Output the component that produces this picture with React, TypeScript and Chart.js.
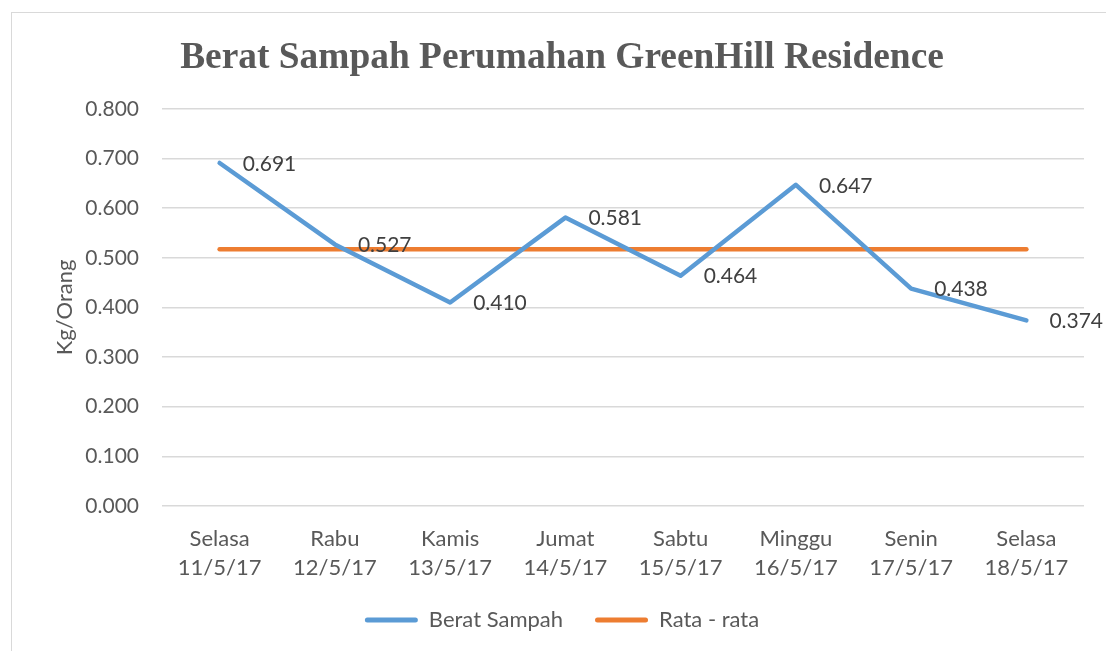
import React, { useEffect, useRef } from "react";
import { Chart, registerables } from "chart.js";

Chart.register(...registerables);

const categories: string[][] = [
  ["Selasa", "11/5/17"],
  ["Rabu", "12/5/17"],
  ["Kamis", "13/5/17"],
  ["Jumat", "14/5/17"],
  ["Sabtu", "15/5/17"],
  ["Minggu", "16/5/17"],
  ["Senin", "17/5/17"],
  ["Selasa", "18/5/17"],
];
const beratSampah = [0.691, 0.527, 0.41, 0.581, 0.464, 0.647, 0.438, 0.374];
const rataRata = [0.517, 0.517, 0.517, 0.517, 0.517, 0.517, 0.517, 0.517];
const yMin = 0;
const yMax = 0.8;
const yStep = 0.1;

const FONT = "Lato";
const FS = 22;
const FS_NUM = 21;

const dataLabelPlugin = {
  id: "dataLabels",
  afterDatasetsDraw(chart: any) {
    const ctx = chart.ctx;
    const meta = chart.getDatasetMeta(0);
    ctx.save();
    ctx.font = `${FS_NUM}px ${FONT}`;
    ctx.fillStyle = "#404040";
    ctx.textAlign = "left";
    ctx.textBaseline = "middle";
    meta.data.forEach((pt: any, i: number) => {
      const v = chart.data.datasets[0].data[i] as number;
      ctx.fillText(v.toFixed(3), pt.x + 23, pt.y + 1);
    });
    ctx.restore();
  },
};

export default function App() {
  const ref = useRef<HTMLCanvasElement | null>(null);
  useEffect(() => {
    document.body.style.margin = "0";
    const chart = new Chart(ref.current!, {
      type: "line",
      data: {
        labels: categories,
        datasets: [
          {
            label: "Berat Sampah",
            data: beratSampah,
            borderColor: "#5B9BD5",
            backgroundColor: "#5B9BD5",
            borderWidth: 4.5,
            pointRadius: 0,
            borderCapStyle: "round",
            borderJoinStyle: "round",
            tension: 0,
          },
          {
            label: "Rata - rata",
            data: rataRata,
            borderColor: "#ED7D31",
            backgroundColor: "#ED7D31",
            borderWidth: 4.5,
            pointRadius: 0,
            borderCapStyle: "round",
            tension: 0,
          },
        ],
      },
      options: {
        animation: false,
        responsive: false,
        layout: { padding: { left: 40, right: 22, top: 0, bottom: 10 } },
        scales: {
          x: {
            offset: true,
            grid: { display: false, drawTicks: false },
            border: { display: false },
            ticks: {
              color: "#595959",
              font: { family: FONT, size: FS, lineHeight: 1.33 },
              padding: 18,
              maxRotation: 0,
              autoSkip: false,
            },
            afterFit: (s: any) => {
              s.height = 71;
            },
          },
          y: {
            min: yMin,
            max: yMax,
            grid: { color: "#d9d9d9", lineWidth: 1.5, drawTicks: false },
            border: { display: false },
            ticks: {
              stepSize: yStep,
              color: "#595959",
              font: { family: FONT, size: FS_NUM },
              padding: 23,
              callback: (v: any) => Number(v).toFixed(3),
            },
            title: {
              display: true,
              text: "Kg/Orang",
              color: "#595959",
              font: { family: FONT, size: FS },
              padding: { top: 12, bottom: 0 },
            },
            afterFit: (s: any) => {
              s.width = 122;
            },
          },
        },
        plugins: {
          title: {
            display: true,
            text: "Berat Sampah Perumahan GreenHill Residence",
            color: "#595959",
            font: { family: "Liberation Serif", size: 37.4, weight: "bold", lineHeight: 1.2 },
            padding: { top: 36, bottom: 28 },
          },
          legend: {
            position: "bottom",
            labels: {
              color: "#595959",
              font: { family: FONT, size: FS },
              boxWidth: 53,
              boxHeight: 5,
              padding: 32,
              generateLabels: (c: any) =>
                c.data.datasets.map((d: any, i: number) => ({
                  text: d.label,
                  fillStyle: d.borderColor,
                  strokeStyle: d.borderColor,
                  lineWidth: 0,
                  borderRadius: 2.5,
                  fontColor: "#595959",
                  hidden: false,
                  datasetIndex: i,
                })),
            },
          },
          tooltip: { enabled: false },
        },
      },
      plugins: [dataLabelPlugin],
    } as any);
    return () => chart.destroy();
  }, []);

  return (
    <div style={{ position: "relative", width: 1106, height: 651, overflow: "hidden", background: "#fff" }}>
      <div
        style={{
          position: "absolute",
          left: 11,
          top: 12,
          width: 1120,
          height: 700,
          border: "1.5px solid #d9d9d9",
          boxSizing: "border-box",
        }}
      />
      <canvas ref={ref} width={1106} height={651} style={{ position: "absolute", left: 0, top: 0, display: "block" }} />
    </div>
  );
}
